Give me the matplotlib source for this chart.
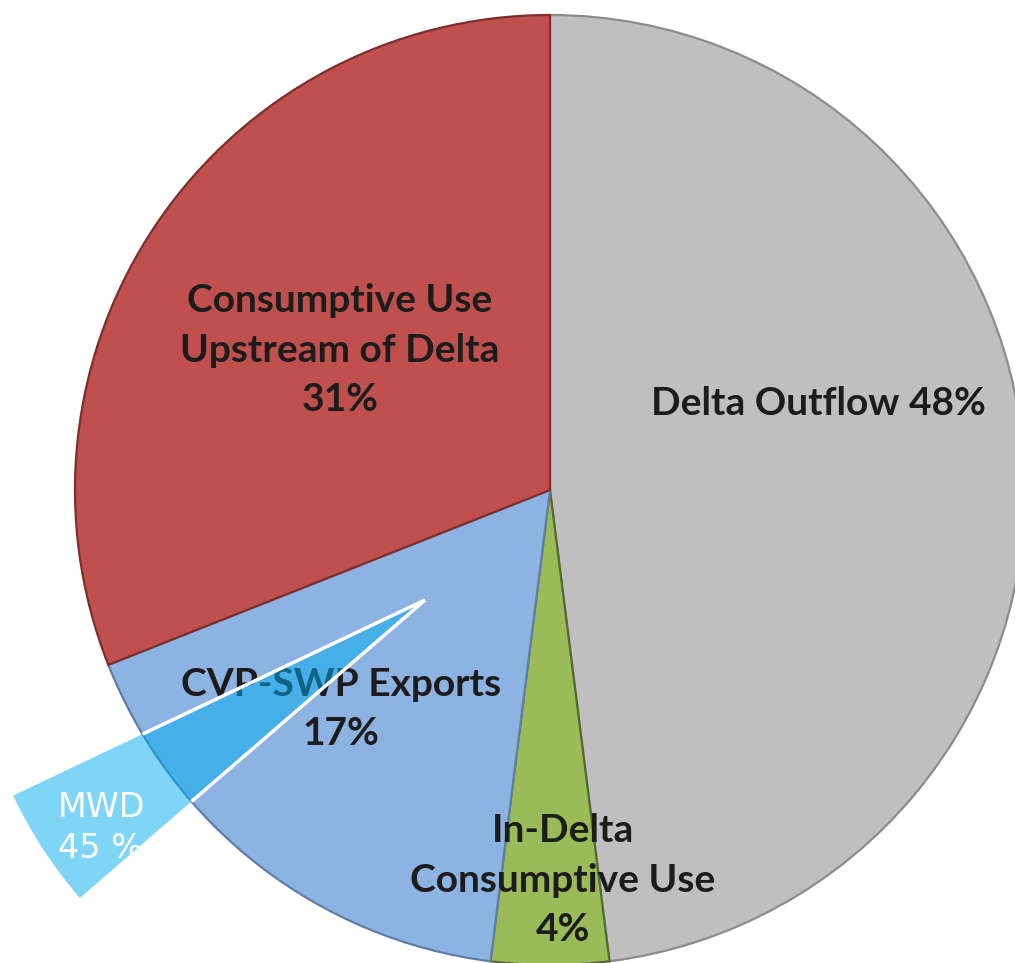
import matplotlib
matplotlib.use("Agg")
from matplotlib import pyplot as plt
from matplotlib.patches import Wedge, Circle

# slices, clockwise from 12 o'clock
labels = ["Delta Outflow 48%", "In-Delta\nConsumptive Use\n4%", "CVP-SWP Exports\n17%",
          "Consumptive Use\nUpstream of Delta\n31%"]
shares = [48, 4, 17, 31]
fills = ["#bfbfbf", "#9bbb59", "#8db3e2", "#c0504d"]
edges = ["#8c8c8c", "#56692f", "#5f7fa6", "#7d2f2d"]

# label anchors (pixel space, y up)
label_xy = [(818, 560), (563, 83), (341, 254), (340, 613)]

# MWD call-out
mwd_text = "MWD\n45 %"

fig = plt.figure(figsize=(10.15, 9.63), dpi=100)
ax = fig.add_axes([0, 0, 1, 1])

cx, cy, rad = 550, 473, 475
wedges, _ = ax.pie(shares, colors=fills, startangle=90, counterclock=False,
                   center=(cx, cy), radius=rad,
                   wedgeprops=dict(linewidth=1.6))
for w, ec in zip(wedges, edges):
    w.set_edgecolor(ec)

for txt, (x, y) in zip(labels, label_xy):
    ax.text(x, y, txt, ha="center", va="center", fontsize=28,
            fontweight="bold", family="Lato", color="#1c1c1c",
            linespacing=1.5, zorder=3)

# call-out wedge: half-transparent cyan laid over the pie
apex = (425, 363)
callout = Wedge(apex, 456, 205.4, 220.8, facecolor="#00adee", alpha=0.5,
                edgecolor="none", zorder=4)
ax.add_patch(callout)
rim = Wedge(apex, 456, 205.4, 220.8, facecolor="none", edgecolor="white",
            linewidth=2.5, zorder=5)
ax.add_patch(rim)
rim.set_clip_path(Circle((cx, cy), rad, transform=ax.transData))

t = ax.text(58, 135, mwd_text, ha="left", va="center", fontsize=24,
            family="DejaVu Sans", color="white", linespacing=1.3, zorder=6)
t.set_clip_path(callout)

ax.set_xlim(0, 1015)
ax.set_ylim(0, 963)
ax.set_aspect("equal")
ax.axis("off")

fig.savefig("out.png", dpi=100)
